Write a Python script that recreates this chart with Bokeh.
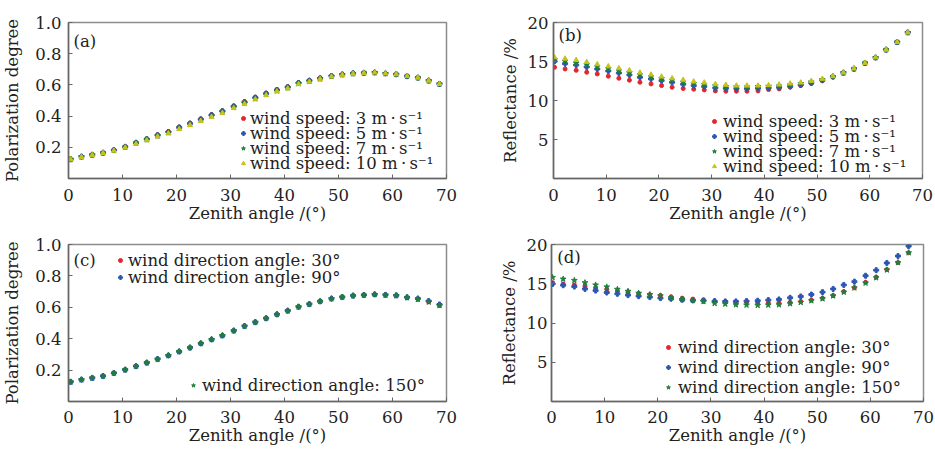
from bokeh.plotting import figure
from bokeh.layouts import column, row
from bokeh.models import Range1d, FixedTicker, Legend, LegendItem, Label, PrintfTickFormatter
from bokeh.embed import file_html
from bokeh.resources import INLINE

FONT = "DejaVu Serif"
FS = "16.5px"
TXT = "#222222"

# ---------------- data ----------------
x_ac = [0.4, 2.4, 4.4, 6.4, 8.4, 10.5, 12.5, 14.5, 16.5, 18.5, 20.5, 22.5, 24.5, 26.5, 28.5,
        30.6, 32.6, 34.6, 36.6, 38.6, 40.6, 42.6, 44.6, 46.6, 48.7, 50.7, 52.7, 54.7, 56.7,
        58.7, 60.7, 62.7, 64.7, 66.7, 68.7]
x_bd = [0.2, 2.2, 4.3, 6.3, 8.3, 10.4, 12.4, 14.4, 16.4, 18.5, 20.5, 22.5, 24.6, 26.6, 28.6,
        30.7, 32.7, 34.7, 36.7, 38.8, 40.8, 42.8, 44.9, 46.9, 48.9, 51.0, 53.0, 55.0, 57.0,
        59.1, 61.1, 63.1, 65.2, 67.2]

speed_labels = ["wind speed: 3 m\u2009\u00b7\u2009s\u207b\u00b9",
                "wind speed: 5 m\u2009\u00b7\u2009s\u207b\u00b9",
                "wind speed: 7 m\u2009\u00b7\u2009s\u207b\u00b9",
                "wind speed: 10 m\u2009\u00b7\u2009s\u207b\u00b9"]
dir_labels = ["wind direction angle: 30\u00b0",
              "wind direction angle: 90\u00b0",
              "wind direction angle: 150\u00b0"]

# (a) polarization degree vs wind speed
pol_3 = [0.124, 0.141, 0.153, 0.166, 0.183, 0.205, 0.231, 0.255, 0.281, 0.301, 0.331, 0.356,
         0.383, 0.410, 0.435, 0.466, 0.493, 0.522, 0.548, 0.571, 0.589, 0.615, 0.630, 0.645,
         0.659, 0.668, 0.675, 0.678, 0.680, 0.674, 0.669, 0.657, 0.647, 0.628, 0.607]
pol_5 = [0.123, 0.140, 0.152, 0.165, 0.182, 0.203, 0.229, 0.252, 0.277, 0.298, 0.327, 0.352,
         0.379, 0.406, 0.431, 0.462, 0.489, 0.518, 0.544, 0.567, 0.585, 0.612, 0.627, 0.642,
         0.657, 0.667, 0.674, 0.677, 0.679, 0.673, 0.668, 0.656, 0.646, 0.627, 0.606]
pol_7 = [0.123, 0.139, 0.151, 0.164, 0.180, 0.201, 0.226, 0.249, 0.273, 0.294, 0.322, 0.347,
         0.374, 0.400, 0.425, 0.456, 0.483, 0.512, 0.539, 0.562, 0.581, 0.608, 0.623, 0.639,
         0.655, 0.665, 0.672, 0.677, 0.679, 0.673, 0.668, 0.656, 0.646, 0.627, 0.606]
pol_10 = [0.122, 0.138, 0.150, 0.163, 0.178, 0.198, 0.222, 0.245, 0.269, 0.289, 0.317, 0.342,
          0.369, 0.395, 0.420, 0.451, 0.478, 0.507, 0.534, 0.558, 0.577, 0.605, 0.620, 0.637,
          0.653, 0.664, 0.671, 0.676, 0.679, 0.673, 0.668, 0.656, 0.646, 0.627, 0.606]

# (b) reflectance vs wind speed
ref_3 = [14.26, 14.04, 13.87, 13.62, 13.40, 13.11, 12.85, 12.60, 12.34, 12.13, 11.91, 11.70,
         11.53, 11.45, 11.36, 11.23, 11.19, 11.19, 11.19, 11.23, 11.40, 11.49, 11.70, 11.91,
         12.17, 12.55, 13.02, 13.53, 14.04, 14.81, 15.49, 16.51, 17.49, 18.72]
ref_5 = [15.02, 14.72, 14.55, 14.30, 14.04, 13.79, 13.53, 13.28, 12.98, 12.77, 12.55, 12.34,
         12.09, 11.91, 11.79, 11.62, 11.57, 11.53, 11.53, 11.57, 11.62, 11.70, 11.83, 12.00,
         12.26, 12.60, 13.06, 13.55, 14.06, 14.81, 15.50, 16.51, 17.49, 18.72]
ref_7 = [15.23, 15.02, 14.81, 14.60, 14.34, 14.09, 13.83, 13.57, 13.32, 13.06, 12.81, 12.60,
         12.34, 12.17, 12.04, 11.87, 11.79, 11.74, 11.74, 11.79, 11.83, 11.87, 12.00, 12.17,
         12.38, 12.68, 13.08, 13.56, 14.07, 14.81, 15.51, 16.51, 17.49, 18.72]
ref_10 = [15.53, 15.36, 15.19, 14.94, 14.64, 14.38, 14.13, 13.87, 13.57, 13.32, 13.06, 12.85,
          12.64, 12.43, 12.30, 12.09, 12.00, 11.91, 11.91, 11.91, 11.96, 12.04, 12.17, 12.30,
          12.51, 12.77, 13.11, 13.57, 14.09, 14.81, 15.53, 16.51, 17.49, 18.72]

# (c) polarization degree vs wind direction
pol_30 = [0.126, 0.140, 0.151, 0.163, 0.182, 0.203, 0.226, 0.248, 0.271, 0.294, 0.319, 0.344,
          0.371, 0.396, 0.421, 0.452, 0.481, 0.506, 0.531, 0.556, 0.579, 0.604, 0.621, 0.639,
          0.656, 0.666, 0.675, 0.679, 0.683, 0.679, 0.675, 0.662, 0.652, 0.635, 0.612]
pol_90 = [0.125, 0.139, 0.150, 0.162, 0.181, 0.202, 0.225, 0.247, 0.270, 0.293, 0.318, 0.343,
          0.370, 0.395, 0.420, 0.451, 0.480, 0.505, 0.530, 0.555, 0.578, 0.603, 0.620, 0.638,
          0.655, 0.665, 0.674, 0.678, 0.682, 0.679, 0.676, 0.664, 0.656, 0.640, 0.618]
pol_150 = [0.125, 0.139, 0.150, 0.162, 0.181, 0.202, 0.225, 0.247, 0.270, 0.293, 0.318, 0.343,
           0.370, 0.395, 0.420, 0.451, 0.480, 0.505, 0.530, 0.555, 0.578, 0.603, 0.620, 0.638,
           0.655, 0.665, 0.674, 0.678, 0.682, 0.678, 0.674, 0.661, 0.651, 0.634, 0.611]

# (d) reflectance vs wind direction
ref_30 = [15.14, 14.97, 14.85, 14.68, 14.47, 14.30, 14.09, 13.93, 13.76, 13.63, 13.51, 13.34,
          13.17, 13.05, 12.96, 12.75, 12.71, 12.67, 12.63, 12.54, 12.54, 12.58, 12.63, 12.75,
          12.92, 13.17, 13.51, 14.01, 14.51, 15.18, 15.85, 16.82, 17.70, 18.95]
ref_90 = [14.97, 14.81, 14.64, 14.34, 14.13, 13.88, 13.72, 13.55, 13.42, 13.30, 13.17, 13.09,
          12.96, 12.88, 12.84, 12.79, 12.75, 12.75, 12.79, 12.84, 12.92, 13.00, 13.21, 13.38,
          13.63, 13.93, 14.34, 14.85, 15.27, 16.02, 16.73, 17.65, 18.53, 19.79]
ref_150 = [15.81, 15.60, 15.43, 15.14, 14.85, 14.60, 14.30, 14.05, 13.80, 13.63, 13.46, 13.21,
           13.00, 12.88, 12.75, 12.50, 12.42, 12.33, 12.29, 12.25, 12.29, 12.33, 12.46, 12.63,
           12.84, 13.09, 13.46, 13.93, 14.47, 15.10, 15.77, 16.77, 17.70, 18.95]

x_ticks = [0, 10, 20, 30, 40, 50, 60, 70]
pol_ticks = [0.2, 0.4, 0.6, 0.8, 1.0]
ref_ticks = [5, 10, 15, 20]

RED, BLUE, GREEN, YEL = "#e3262d", "#2a55b3", "#1f7f3e", "#c8c21c"
STYLES = [("circle", 4, RED), ("plus", 5, BLUE), ("star", 6, GREEN), ("triangle", 5, YEL)]


def make_fig(w, h, bl, bt, bb, br, ymax, yticks, ylabel, fmt, xstand, ystand, ylabstand):
    p = figure(width=w, height=h,
               min_border_left=bl, min_border_top=bt, min_border_bottom=bb, min_border_right=br,
               x_range=Range1d(0, 70), y_range=Range1d(0, ymax),
               output_backend="svg", toolbar_location=None)
    p.grid.visible = False
    p.outline_line_color = "#8c8c8c"
    p.outline_line_width = 1.5
    p.background_fill_color = "white"
    p.border_fill_color = "white"
    for ax in (p.xaxis[0], p.yaxis[0]):
        ax.axis_line_color = "#666666"
        ax.axis_line_width = 1.5
        ax.major_tick_in = 4
        ax.major_tick_out = 0
        ax.major_tick_line_color = "#666666"
        ax.minor_tick_line_color = None
        ax.major_label_text_font = FONT
        ax.major_label_text_font_size = FS
        ax.major_label_text_color = TXT
        ax.axis_label_text_font = FONT
        ax.axis_label_text_font_size = FS
        ax.axis_label_text_font_style = "normal"
        ax.axis_label_text_color = TXT
    p.xaxis.ticker = FixedTicker(ticks=x_ticks)
    p.yaxis.ticker = FixedTicker(ticks=yticks)
    if fmt:
        p.yaxis.formatter = PrintfTickFormatter(format=fmt)
    p.xaxis.axis_label = "Zenith angle /(\u00b0)"
    p.yaxis.axis_label = ylabel
    p.xaxis.major_label_standoff = xstand
    p.xaxis.axis_label_standoff = 0
    p.yaxis.major_label_standoff = ystand
    p.yaxis.axis_label_standoff = ylabstand
    return p


def add_series(p, xs, ys_list, styles):
    rs = []
    for ys, (mk, sz, col) in zip(ys_list, styles):
        rs.append(p.scatter(xs, ys, marker=mk, size=sz, fill_color=col, line_color=col))
    return rs


def add_entry(p, label, rend, lx, yb, standoff):
    lg = Legend(items=[LegendItem(label=label, renderers=[rend])], location=(lx, yb),
                label_text_font=FONT, label_text_font_size=FS, label_text_color=TXT,
                background_fill_alpha=0, border_line_alpha=0, padding=0, margin=0,
                spacing=0, glyph_width=10, glyph_height=20, label_height=20,
                label_standoff=standoff)
    p.add_layout(lg)


def add_tag(p, x, y, t):
    p.add_layout(Label(x=x, y=y, text=t, text_font=FONT, text_font_size=FS,
                       text_color=TXT, text_baseline="middle"))


# (a)  frame x 68..446, y 17..178
pa = make_fig(475, 229, 68, 17, 51, 29, 1.0, pol_ticks, "Polarization degree", "%.1f",
              10, 7, 10)
ra = add_series(pa, x_ac, [pol_3, pol_5, pol_7, pol_10], STYLES)
for lab, r, yb in zip(speed_labels, ra, [50, 35, 20, 5]):
    add_entry(pa, lab, r, 170, yb, 2)
add_tag(pa, 0.93, 0.876, "(a)")

# (b)  frame x 553..922, y 22..179
pb = make_fig(459, 229, 78, 22, 50, 12, 20, ref_ticks, "Reflectance /%", None,
              10, 5, 5)
rb = add_series(pb, x_bd, [ref_3, ref_5, ref_7, ref_10], STYLES)
for lab, r, yb in zip(speed_labels, rb, [47, 32, 17, 2]):
    add_entry(pb, lab, r, 156, yb, 4)
add_tag(pb, 0.95, 18.35, "(b)")

# (c)  frame x 68..446, y 242..401
pc = make_fig(475, 220, 68, 13, 48, 29, 1.0, pol_ticks, "Polarization degree", "%.1f",
              9, 7, 10)
rc = add_series(pc, x_ac, [pol_30, pol_90, pol_150], STYLES[:3])
add_entry(pc, dir_labels[0], rc[0], 47, 131, 3)
add_entry(pc, dir_labels[1], rc[1], 47, 114, 3)
add_entry(pc, dir_labels[2], rc[2], 120, 6, 4)
add_tag(pc, 0.93, 0.90, "(c)")

# (d)  frame x 551..923, y 244..401
pd = make_fig(459, 220, 76, 15, 48, 11, 20, ref_ticks, "Reflectance /%", None,
              9, 4, 5)
rd = add_series(pd, x_bd, [ref_30, ref_90, ref_150], STYLES[:3])
for lab, r, yb in zip(dir_labels, rd, [44, 24, 4]):
    add_entry(pd, lab, r, 112, yb, 5)
add_tag(pd, 1.1, 18.35, "(d)")

layout = column(row(pa, pb), row(pc, pd))
open("out.html", "w").write(file_html(layout, INLINE))
